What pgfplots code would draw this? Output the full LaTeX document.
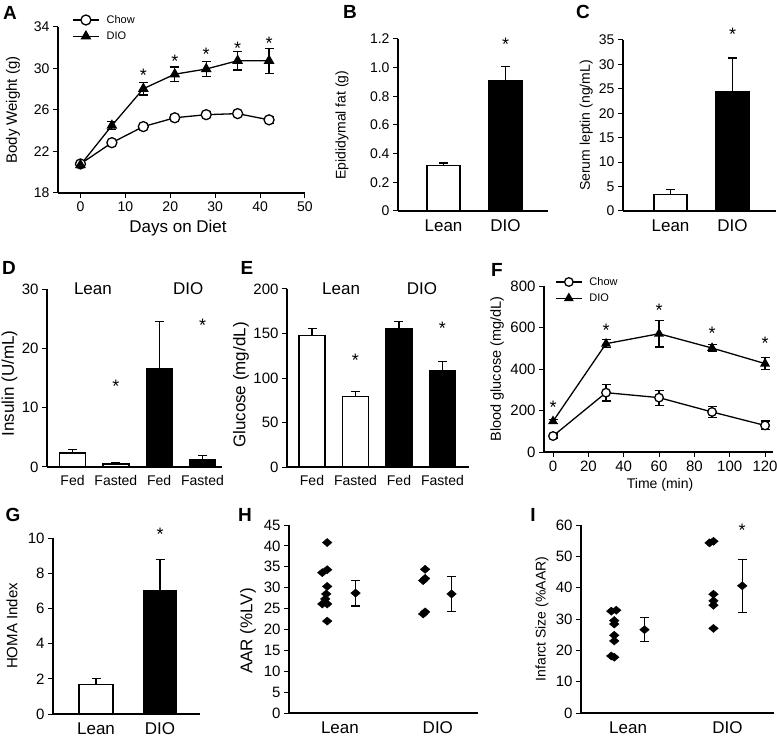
\documentclass[border=0pt]{standalone}
\usepackage{pgfplots}
\pgfplotsset{compat=1.18}
\usepackage{fontspec}
\setmainfont{Liberation Sans}
\newcommand\fs[1]{\fontsize{#1}{#1}\selectfont}

\pgfplotsset{
  panel/.style={scale only axis, anchor=south west, axis lines*=left,
    axis line style={-, line width=1.2pt}, enlargelimits=false, clip=false,
    tick align=outside, major tick length=5pt, tick style={black, line width=1pt},
    tick label style={font=\fs{14}}, /pgf/number format/assume math mode=true,
    label style={font=\fs{14}}},
  barpanel/.style={panel, xtick={1,2}, xticklabels={Lean,DIO},
    x tick label style={font=\fs{17}}, xtick style={draw=none}},
  wbar/.style={ybar, bar width=#1, fill=white, draw=black, line width=1.3pt},
  bbar/.style={ybar, bar width=#1, fill=black, draw=black, line width=1.3pt},
  ebp/.style={error bars/y dir=plus, error bars/y explicit,
    error bars/error bar style={line width=1.2pt},
    error bars/error mark options={rotate=90, black, line width=1.2pt, mark size=4.5pt}},
  eb/.style={error bars/y dir=both, error bars/y explicit,
    error bars/error bar style={line width=1.2pt},
    error bars/error mark options={rotate=90, black, line width=1.2pt, mark size=4.5pt}},
  dia/.style={only marks, mark=diamond*, mark size=4.8pt, black,
    mark options={xscale=1.33, yscale=0.85}},
  lg/.style={legend style={draw=none, fill=none, font=\fs{11}, row sep=3pt, column sep=5pt, inner sep=0pt},
    legend cell align=left,
    legend image code/.code={\draw[mark repeat=2,mark phase=2,##1] plot coordinates {(0pt,0pt)(13pt,0pt)(26pt,0pt)};}},
}
\tikzset{ast/.style={font=\fs{18}, anchor=north, inner sep=0pt},
  plab/.style={font=\fs{19}\bfseries, anchor=center}}

\begin{document}
\begin{tikzpicture}
\path[use as bounding box] (0,0) rectangle (777pt,-743pt);

% A
\begin{axis}[panel, lg, at={(58pt,-193pt)}, width=247pt, height=166pt,
  xmin=-5, xmax=50, ymin=18, ymax=34, xtick={0,10,...,50}, ytick={18,22,...,34},
  xlabel={Days on Diet}, xlabel style={font=\fs{17}, at={(axis description cs:0.486,-0.21)}, anchor=center},
  ylabel={Body Weight (g)}, ylabel style={font=\fs{15}, at={(axis description cs:-0.182,0.5)}, anchor=center},
  legend style={at={(axis description cs:0.057,1.084)}, anchor=north west}]
\addplot[black, line width=1.3pt, mark=*, mark size=5pt, mark options={fill=white}, eb]
  coordinates {(0,20.8) +- (0,0.2) (7,22.85) +- (0,0.2) (14,24.4) +- (0,0.3) (21,25.25) +- (0,0.3)
  (28,25.55) +- (0,0.25) (35,25.65) +- (0,0.3) (42,25.05) +- (0,0.35)};
\addlegendentry{Chow}
\addplot[black, line width=1.3pt, mark=triangle*, mark size=5pt, eb]
  coordinates {(0,20.7) +- (0,0.2) (7,24.5) +- (0,0.4) (14,28.05) +- (0,0.6) (21,29.45) +- (0,0.7)
  (28,29.95) +- (0,0.7) (35,30.75) +- (0,0.9) (42,30.75) +- (0,1.2)};
\addlegendentry{DIO}
\node[ast] at (axis cs:14,29.98) {*};
\node[ast] at (axis cs:21,31.33) {*};
\node[ast] at (axis cs:28,31.97) {*};
\node[ast] at (axis cs:35,32.6) {*};
\node[ast] at (axis cs:42,33.0) {*};
\end{axis}

% B
\begin{axis}[barpanel, at={(398pt,-211pt)}, width=150pt, height=172pt,
  xmin=0.266, xmax=2.685, ymin=0, ymax=1.2, ytick={0,0.2,0.4,0.6,0.8,1.0,1.2},
  yticklabels={0,0.2,0.4,0.6,0.8,1.0,1.2},
  ylabel={Epididymal fat (g)}, ylabel style={at={(axis description cs:-0.373,0.5)}, anchor=center}]
\addplot[wbar=33pt, ebp] coordinates {(1,0.315) +- (0,0.02)};
\addplot[bbar=33pt, ebp] coordinates {(2,0.908) +- (0,0.1)};
\node[ast] at (axis cs:2,1.21) {*};
\end{axis}

% C
\begin{axis}[barpanel, at={(623pt,-211pt)}, width=153pt, height=171pt,
  xmin=0.234, xmax=2.70, ymin=0, ymax=35, ytick={0,5,...,35},
  ylabel={Serum leptin (ng/mL)}, ylabel style={at={(axis description cs:-0.24,0.5)}, anchor=center}]
\addplot[wbar=33pt, ebp] coordinates {(1,3.4) +- (0,1.0)};
\addplot[bbar=33pt, ebp] coordinates {(2,24.5) +- (0,6.8)};
\node[ast] at (axis cs:2,37.5) {*};
\end{axis}

% D
\begin{axis}[panel, at={(47pt,-467pt)}, width=175pt, height=178pt,
  xmin=0.41, xmax=4.45, ymin=0, ymax=30, ytick={0,10,20,30},
  xtick={1,2,3,4}, xticklabels={Fed,Fasted,Fed,Fasted}, xtick style={draw=none},
  tick label style={font=\fs{15}}, x tick label style={font=\fs{14}},
  ylabel={Insulin (U/mL)}, ylabel style={font=\fs{17}, at={(axis description cs:-0.215,0.47)}, anchor=center}]
\addplot[wbar=26pt, ebp] coordinates {(1,2.36) +- (0,0.56) (2,0.5) +- (0,0.25)};
\addplot[bbar=26pt, ebp] coordinates {(3,16.6) +- (0,7.9) (4,1.3) +- (0,0.7)};
\node[font=\fs{17}] at (axis cs:1.47,30) {Lean};
\node[font=\fs{17}] at (axis cs:3.67,30) {DIO};
\node[ast] at (axis cs:2,14.7) {*};
\node[ast] at (axis cs:4,25.0) {*};
\end{axis}

% E
\begin{axis}[panel, at={(287pt,-467pt)}, width=182pt, height=178pt,
  xmin=0.425, xmax=4.61, ymin=0, ymax=200, ytick={0,50,...,200},
  xtick={1,2,3,4}, xticklabels={Fed,Fasted,Fed,Fasted}, xtick style={draw=none},
  tick label style={font=\fs{15}}, x tick label style={font=\fs{14}},
  ylabel={Glucose (mg/dL)}, ylabel style={font=\fs{17}, at={(axis description cs:-0.253,0.46)}, anchor=center}]
\addplot[wbar=26pt, ebp] coordinates {(1,147.6) +- (0,8) (2,79.4) +- (0,5.6)};
\addplot[bbar=26pt, ebp] coordinates {(3,155.8) +- (0,8) (4,108.6) +- (0,9.7)};
\node[font=\fs{17}] at (axis cs:1.67,200) {Lean};
\node[font=\fs{17}] at (axis cs:3.53,200) {DIO};
\node[ast] at (axis cs:2,127.3) {*};
\node[ast] at (axis cs:4,162.5) {*};
\end{axis}

% F
\begin{axis}[panel, lg, at={(544pt,-452pt)}, width=229pt, height=166pt,
  xmin=-5.1, xmax=124.5, ymin=0, ymax=800, xtick={0,20,...,120}, ytick={0,200,...,800},
  tick label style={font=\fs{15}},
  xlabel={Time (min)}, xlabel style={at={(axis description cs:0.507,-0.199)}, anchor=center},
  ylabel={Blood glucose (mg/dL)}, ylabel style={font=\fs{14.5}, at={(axis description cs:-0.205,0.5)}, anchor=center},
  legend style={at={(axis description cs:0.048,1.066)}, anchor=north west}]
\addplot[black, line width=1.3pt, mark=*, mark size=4.3pt, mark options={fill=white}, eb]
  coordinates {(0,77) +- (0,10) (30,286) +- (0,40) (60,262) +- (0,36) (90,193) +- (0,27) (120,128) +- (0,21)};
\addlegendentry{Chow}
\addplot[black, line width=1.3pt, mark=triangle*, mark size=4.5pt, eb]
  coordinates {(0,148) +- (0,10) (30,522) +- (0,19) (60,570) +- (0,64) (90,501) +- (0,16) (120,426) +- (0,28)};
\addlegendentry{DIO}
\node[ast] at (axis cs:0,245.8) {*};
\node[ast] at (axis cs:30,618) {*};
\node[ast] at (axis cs:60,711.6) {*};
\node[ast] at (axis cs:90,604) {*};
\node[ast] at (axis cs:120,554) {*};
\end{axis}

% G
\begin{axis}[barpanel, at={(53pt,-714pt)}, width=147pt, height=176pt,
  xmin=0.328, xmax=2.625, ymin=0, ymax=10, ytick={0,2,...,10},
  tick label style={font=\fs{15}}, x tick label style={font=\fs{17}},
  ylabel={HOMA Index}, ylabel style={font=\fs{15}, at={(axis description cs:-0.279,0.5)}, anchor=center}]
\addplot[wbar=34pt, ebp] coordinates {(1,1.66) +- (0,0.34)};
\addplot[bbar=33pt, ebp] coordinates {(2,7.0) +- (0,1.8)};
\node[ast] at (axis cs:2,10.6) {*};
\end{axis}

% H
\begin{axis}[barpanel, at={(289pt,-713pt)}, width=189pt, height=188pt,
  xmin=0.48, xmax=2.41, ymin=0, ymax=45, ytick={0,5,...,45},
  tick label style={font=\fs{15}}, x tick label style={font=\fs{17}},
  ylabel={AAR (\%LV)}, ylabel style={font=\fs{17}, at={(axis description cs:-0.217,0.436)}, anchor=center}]
\addplot[dia] coordinates {(0.87,40.8)(0.87,34.3)(0.82,33.6)(0.87,30.3)(0.86,28.5)
  (0.85,27.3)(0.82,26.1)(0.87,26.1)(0.87,22.0)};
\addplot[dia] coordinates {(1.87,34.4)(1.87,32.2)(1.85,31.7)(1.87,24.2)(1.85,23.7)};
\addplot[dia, eb] coordinates {(1.16,28.7) +- (0,3.1) (2.14,28.5) +- (0,4.25)};
\end{axis}

% I
\begin{axis}[barpanel, at={(581pt,-713pt)}, width=193pt, height=188pt,
  xmin=0.525, xmax=2.47, ymin=0, ymax=60, ytick={0,10,...,60},
  tick label style={font=\fs{15}}, x tick label style={font=\fs{17}},
  ylabel={Infarct Size (\%AAR)}, ylabel style={font=\fs{14}, at={(axis description cs:-0.202,0.5)}, anchor=center}]
\addplot[dia] coordinates {(0.83,32.5)(0.88,32.8)(0.86,29.5)(0.86,28.4)(0.86,24.8)
  (0.86,23.0)(0.83,18.2)(0.86,17.8)};
\addplot[dia] coordinates {(1.82,54.3)(1.86,54.8)(1.86,37.9)(1.86,35.8)(1.86,34.4)(1.86,27.0)};
\addplot[dia, eb] coordinates {(1.165,26.6) +- (0,3.8) (2.15,40.6) +- (0,8.5)};
\node[ast] at (axis cs:2.15,60.3) {*};
\end{axis}

\node[plab] at (10pt,-13pt) {A};
\node[plab] at (350pt,-12pt) {B};
\node[plab] at (583pt,-12pt) {C};
\node[plab] at (9pt,-268pt) {D};
\node[plab] at (247pt,-268pt) {E};
\node[plab] at (497pt,-270pt) {F};
\node[plab] at (13pt,-515pt) {G};
\node[plab] at (245pt,-515pt) {H};
\node[plab] at (533pt,-515pt) {I};
\end{tikzpicture}
\end{document}
